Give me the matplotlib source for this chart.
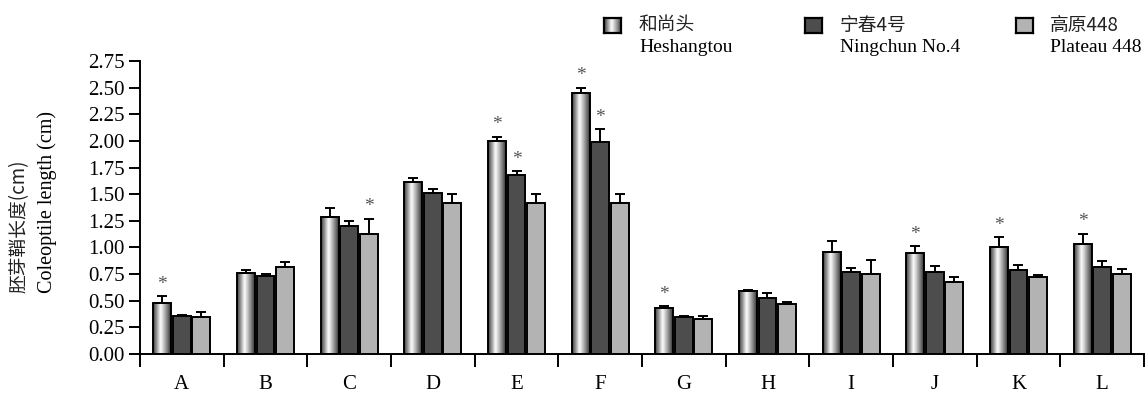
import numpy as np
import matplotlib
matplotlib.use("Agg")
import matplotlib.pyplot as plt
from matplotlib.colors import LinearSegmentedColormap

plt.rcParams['font.family'] = ['Liberation Serif', 'Noto Sans CJK SC', 'DejaVu Sans']

categories = ['A', 'B', 'C', 'D', 'E', 'F', 'G', 'H', 'I', 'J', 'K', 'L']
series_names_cn = ['和尚头', '宁春4号', '高原448']
series_names_en = ['Heshangtou', 'Ningchun No.4', 'Plateau 448']

heshangtou = [0.48, 0.76, 1.29, 1.61, 2.00, 2.45, 0.43, 0.59, 0.96, 0.95, 1.00, 1.03]
heshangtou_err = [0.06, 0.025, 0.08, 0.04, 0.04, 0.05, 0.02, 0.01, 0.10, 0.06, 0.10, 0.10]
ningchun = [0.36, 0.73, 1.20, 1.51, 1.68, 1.99, 0.35, 0.53, 0.77, 0.77, 0.79, 0.82]
ningchun_err = [0.01, 0.025, 0.05, 0.04, 0.035, 0.12, 0.01, 0.04, 0.04, 0.055, 0.05, 0.055]
plateau = [0.35, 0.82, 1.13, 1.42, 1.42, 1.42, 0.33, 0.47, 0.75, 0.68, 0.72, 0.75]
plateau_err = [0.04, 0.04, 0.14, 0.08, 0.08, 0.08, 0.03, 0.015, 0.13, 0.04, 0.025, 0.045]

# significance stars: (category index, series index)
stars = [(0, 0), (2, 2), (4, 0), (4, 1), (5, 0), (5, 1), (6, 0), (9, 0), (10, 0), (11, 0)]

yticks = [0.00, 0.25, 0.50, 0.75, 1.00, 1.25, 1.50, 1.75, 2.00, 2.25, 2.50, 2.75]

W, H = 1147, 396
fig = plt.figure(figsize=(W / 100, H / 100), dpi=100)
ax = fig.add_axes([140 / W, (H - 354) / H, (1144 - 140) / W, (354 - 61) / H])

grad_cmap = LinearSegmentedColormap.from_list(
    'cyl', [(0, '#3a3a3a'), (0.18, '#8a8a8a'), (0.42, '#ffffff'), (0.62, '#bdbdbd'), (0.85, '#6a6a6a'), (1, '#2e2e2e')])
grad = np.linspace(0, 1, 256).reshape(1, -1)

data = [heshangtou, ningchun, plateau]
errs = [heshangtou_err, ningchun_err, plateau_err]
colors = [None, '#4d4d4d', '#b3b3b3']
x = np.arange(len(categories)) + 0.5
offs = [-0.233, 0.0, 0.233]
bw = 0.215

for s in range(3):
    xs = x + offs[s]
    if s == 0:
        bars = ax.bar(xs, data[s], bw, facecolor='none', edgecolor='black', linewidth=1.4, zorder=3)
        for b in bars:
            im = ax.imshow(grad, cmap=grad_cmap, aspect='auto', interpolation='bicubic',
                           extent=[b.get_x(), b.get_x() + b.get_width(), 0, b.get_height()], zorder=2)
            im.set_clip_path(b)
    else:
        ax.bar(xs, data[s], bw, color=colors[s], edgecolor='black', linewidth=1.4, zorder=3)
    ax.errorbar(xs, data[s], yerr=[np.zeros(len(xs)), errs[s]], fmt='none', ecolor='black',
                elinewidth=1.4, capsize=3.5, capthick=1.4, zorder=4)

for ci, si in stars:
    ax.text(x[ci] + offs[si], data[si][ci] + errs[si][ci] + 0.03, '*', ha='center', va='bottom',
            fontsize=14, color='#555555')

ax.set_xlim(0, 12)
ax.set_ylim(0, 2.75)
ax.set_aspect('auto')
ax.set_yticks(yticks)
ax.set_yticklabels([f'{v:.2f}' for v in yticks], fontsize=15)
ax.set_xticks(np.arange(0, 13))
ax.set_xticklabels([])
ax.set_xticks(x, minor=True)
ax.set_xticklabels(categories, minor=True, fontsize=15)
ax.tick_params(axis='x', which='minor', length=0, pad=15)
ax.tick_params(axis='x', which='major', length=9.5, width=1.4, direction='out')
ax.tick_params(axis='y', length=8, width=1.4, direction='out', pad=3)
for sp in ['top', 'right']:
    ax.spines[sp].set_visible(False)
for sp in ['left', 'bottom']:
    ax.spines[sp].set_linewidth(1.4)

fig.text(19 / W, (H - 293) / H, '胚芽鞘长度(cm)', rotation=90, ha='center', va='bottom', fontsize=13.5,
         family=['Noto Sans CJK SC', 'Liberation Serif'], color='#222222')
fig.text(47 / W, (H - 293) / H, 'Coleoptile length (cm)', rotation=90, ha='center', va='bottom', fontsize=14.5)

# legend
leg_box_x = [604, 805, 1016]
leg_text_x = [639, 840, 1050]
for i in range(3):
    lx = leg_box_x[i]
    lax = fig.add_axes([lx / W, (H - 33) / H, 17 / W, 15 / H])
    lax.set_xlim(0, 1)
    lax.set_ylim(0, 1)
    lax.set_xticks([])
    lax.set_yticks([])
    if i == 0:
        lax.imshow(grad, cmap=grad_cmap, aspect='auto', extent=[0, 1, 0, 1], interpolation='bicubic')
    else:
        lax.set_facecolor(colors[i])
    for sp in lax.spines.values():
        sp.set_linewidth(1.6)
    fig.text(leg_text_x[i] / W, (H - 25) / H, series_names_cn[i], ha='left', va='center', fontsize=13.5,
             family=['Noto Sans CJK SC', 'Liberation Serif'], color='#222222')
    fig.text(leg_text_x[i] / W, (H - 48) / H, series_names_en[i], ha='left', va='center', fontsize=14)

fig.savefig('out.png', dpi=100)
